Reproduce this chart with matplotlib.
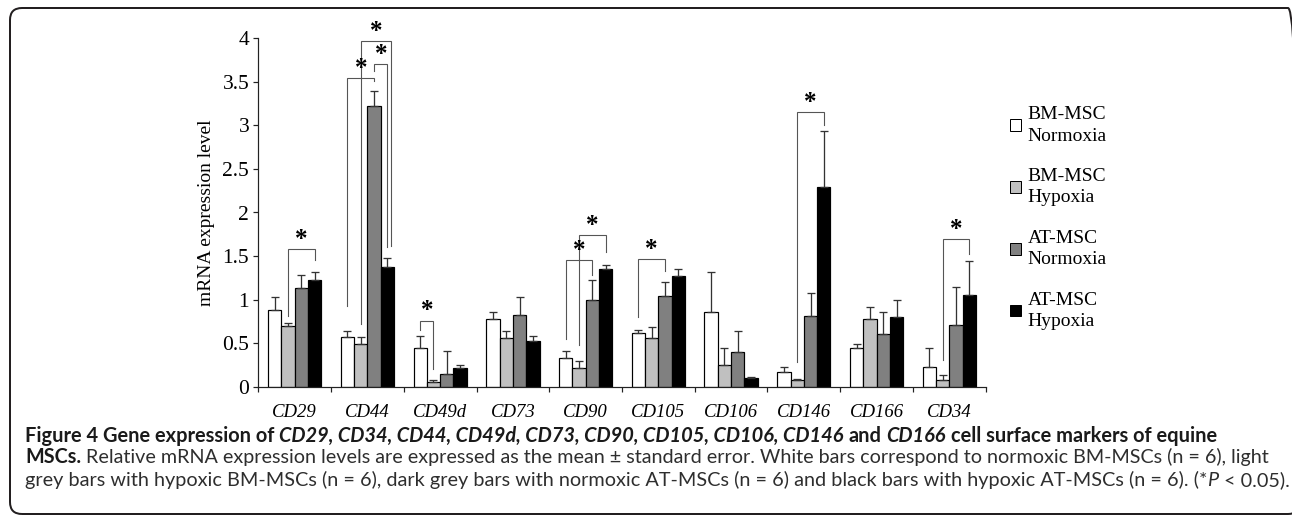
import numpy as np
import matplotlib
matplotlib.use("Agg")
import matplotlib.pyplot as plt
from matplotlib.patches import FancyBboxPatch
from matplotlib.transforms import IdentityTransform

# ---------------- data ----------------
categories = ["CD29", "CD44", "CD49d", "CD73", "CD90", "CD105", "CD106", "CD146", "CD166", "CD34"]
series_labels = ["BM-MSC\nNormoxia", "BM-MSC\nHypoxia", "AT-MSC\nNormoxia", "AT-MSC\nHypoxia"]

bm_norm = [0.88, 0.57, 0.44, 0.78, 0.33, 0.62, 0.86, 0.17, 0.44, 0.23]
bm_norm_err = [0.15, 0.07, 0.14, 0.08, 0.08, 0.03, 0.46, 0.06, 0.05, 0.22]
bm_hyp = [0.70, 0.49, 0.05, 0.56, 0.22, 0.56, 0.25, 0.08, 0.78, 0.08]
bm_hyp_err = [0.03, 0.08, 0.03, 0.08, 0.08, 0.12, 0.19, 0.01, 0.14, 0.06]
at_norm = [1.13, 3.22, 0.15, 0.82, 0.99, 1.04, 0.40, 0.81, 0.61, 0.71]
at_norm_err = [0.15, 0.18, 0.26, 0.21, 0.23, 0.16, 0.24, 0.27, 0.25, 0.44]
at_hyp = [1.23, 1.38, 0.21, 0.52, 1.35, 1.27, 0.10, 2.29, 0.80, 1.05]
at_hyp_err = [0.09, 0.10, 0.04, 0.06, 0.05, 0.08, 0.01, 0.65, 0.19, 0.39]

y_ticks = [0, 0.5, 1, 1.5, 2, 2.5, 3, 3.5, 4]
y_tick_labels = ["0", "0.5", "1", "1.5", "2", "2.5", "3", "3.5", "4"]

# significance brackets: group index, left bar, right bar, left-leg bottom, right-leg bottom, top
sig_group = [0, 1, 1, 1, 2, 4, 4, 5, 7, 9]
sig_left = [1, 0, 1, 2, 0, 0, 1, 0, 1, 1]
sig_right = [3, 2, 3, 3, 1, 2, 3, 2, 3, 3]
sig_left_y = [0.81, 0.93, 0.72, 3.62, 0.65, 0.55, 0.48, 0.80, 0.28, 0.31]
sig_right_y = [1.45, 3.51, 1.62, 1.60, 0.20, 1.28, 1.55, 1.33, 3.01, 1.52]
sig_top = [1.58, 3.54, 3.97, 3.70, 0.76, 1.45, 1.74, 1.47, 3.15, 1.70]
sig_right_shift = [0, 0, 0.046, 0, 0, 0, 0, 0, 0, 0]

# ---------------- style ----------------
W, H = 1292, 516
SERIF = "Liberation Serif"
colors = ["#ffffff", "#c0c0c0", "#808080", "#000000"]
PX = 72.0 / 100.0  # points per pixel at dpi 100

fig = plt.figure(figsize=(W / 100, H / 100), dpi=100)
ax = fig.add_axes([258.3 / W, 1 - 386.7 / H, 727.4 / W, 348.4 / H])

xc = np.arange(len(categories)) + 0.5
bw = 0.183
offsets = (np.arange(4) - 1.5) * bw

means = [bm_norm, bm_hyp, at_norm, at_hyp]
errs = [bm_norm_err, bm_hyp_err, at_norm_err, at_hyp_err]
for i in range(4):
    ax.bar(xc + offsets[i], means[i], bw, color=colors[i], edgecolor="black",
           linewidth=1.2 * PX, label=series_labels[i], zorder=2)
    ax.errorbar(xc + offsets[i], means[i],
                yerr=[np.zeros(len(categories)), errs[i]], fmt="none",
                ecolor="#333333", elinewidth=1.3 * PX, capsize=4 * PX,
                capthick=1.3 * PX, zorder=3)

# significance brackets
for g, l, r, ly, ry, top, sh in zip(sig_group, sig_left, sig_right, sig_left_y,
                                    sig_right_y, sig_top, sig_right_shift):
    xl = xc[g] + offsets[l]
    xr = xc[g] + offsets[r] + sh
    ax.plot([xl, xl, xr, xr], [ly, top, top, ry], color="#555555",
            lw=1.1 * PX, zorder=4, solid_joinstyle="miter")
    ax.text((xl + xr) / 2, top + 0.035, "*", ha="center", va="baseline",
            fontsize=18, fontweight="bold", family=SERIF, zorder=5)

ax.set_xlim(0, len(categories))
ax.set_ylim(0, 4)
for s in ["top", "right"]:
    ax.spines[s].set_visible(False)
for s in ["left", "bottom"]:
    ax.spines[s].set_linewidth(1.2 * PX)
    ax.spines[s].set_color("#222222")

ax.set_xticks(np.arange(len(categories) + 1))
ax.set_xticklabels([])
ax.tick_params(axis="x", which="major", length=5 * PX, width=1.2 * PX, direction="out",
               color="#222222")
ax.set_xticks(xc, minor=True)
ax.set_xticklabels(categories, minor=True, fontstyle="italic", family=SERIF, fontsize=13.5)
ax.tick_params(axis="x", which="minor", length=0, pad=12.5)

ax.set_yticks(y_ticks)
ax.set_yticklabels(y_tick_labels, family=SERIF, fontsize=15.5)
ax.tick_params(axis="y", length=5 * PX, width=1.2 * PX, pad=3, color="#222222")

ax.set_ylabel("mRNA expression level", family=SERIF, fontsize=14)
ax.yaxis.set_label_coords((215 - 258.3) / 727.4, 0.5)

leg = ax.legend(loc="upper left", bbox_to_anchor=(1010 / W, 1 - 106 / H),
                bbox_transform=fig.transFigure, frameon=False, borderpad=0,
                borderaxespad=0, handlelength=0.55, handleheight=0.55,
                handletextpad=0.35, labelspacing=1.2,
                prop={"family": SERIF, "size": 14})
for t in leg.get_texts():
    t.set_linespacing(1.35)
for p in leg.get_patches():
    p.set_linewidth(1.0 * PX)

# ---------------- frame ----------------
frame = FancyBboxPatch((10, H - 514), 1300 - 10, 514 - 8,
                       boxstyle="round,pad=0,rounding_size=12",
                       transform=IdentityTransform(), fill=False,
                       lw=2 * PX, ec="#231f20")
fig.add_artist(frame)

# ---------------- caption ----------------
CAP = "Lato"
renderer = fig.canvas.get_renderer()


def style_kw(st):
    kw = {"family": CAP}
    if "b" in st:
        kw["fontweight"] = "bold"
    if "i" in st:
        kw["fontstyle"] = "italic"
    return kw


def text_w(s, size, st):
    t = fig.text(0, 0, s, fontsize=size, **style_kw(st))
    w = t.get_window_extent(renderer=renderer).width
    t.remove()
    return w


def layout(segments, size, x0, y_px, draw, color):
    x = x0
    for s, st in segments:
        sp = text_w("x x", size, st) - text_w("xx", size, st)
        lead = len(s) - len(s.lstrip(" "))
        trail = len(s) - len(s.rstrip(" "))
        core = s.strip(" ")
        x += lead * sp
        if draw and core:
            c = color if "b" not in st else "#1a1a1a"
            fig.text(x / W, 1 - y_px / H, core, fontsize=size, va="baseline",
                     ha="left", color=c, **style_kw(st))
        if core:
            x += text_w(core, size, st)
        x += trail * sp
    return x - x0


def caption_line(segments, x0, x1, y_px, color="#2e2e2e"):
    base = 10.0
    w = layout(segments, base, x0, y_px, False, color)
    size = base * (x1 - x0) / w
    layout(segments, size, x0, y_px, True, color)


line1 = [("Figure 4 Gene expression of ", "b"),
         ("CD29, CD34, CD44, CD49d, CD73, CD90, CD105, CD106, CD146", "bi"),
         (" and ", "b"), ("CD166", "bi"),
         (" cell surface markers of equine", "b")]
line2 = [("MSCs.", "b"),
         (" Relative mRNA expression levels are expressed as the mean \u00b1 standard error. "
          "White bars correspond to normoxic BM-MSCs (n = 6), light", "")]
line3 = [("grey bars with hypoxic BM-MSCs (n = 6), dark grey bars with normoxic AT-MSCs (n = 6) "
          "and black bars with hypoxic AT-MSCs (n = 6). (*", ""),
         ("P", "i"), (" < 0.05).", "")]

caption_line(line1, 25, 1214, 441.7)
caption_line(line2, 25, 1271, 463.3)
caption_line(line3, 25, 1289, 486.0)

fig.savefig("out.png", dpi=100)
